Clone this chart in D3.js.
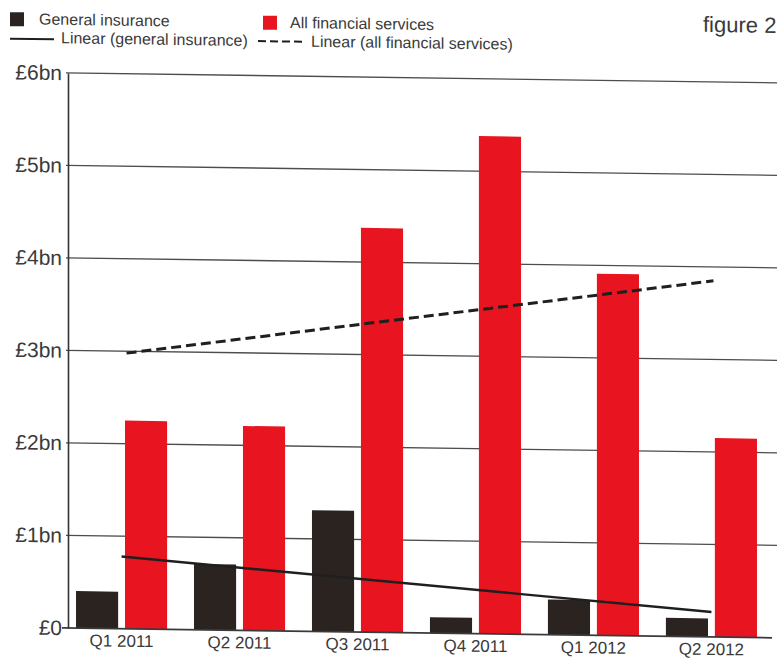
<!DOCTYPE html>
<html>
<head>
<meta charset="utf-8">
<script src="https://cdn.jsdelivr.net/npm/d3@7"></script>
<style>
  html, body { margin: 0; padding: 0; background: #ffffff; }
  svg { display: block; }
  text { font-family: "Liberation Sans", Arial, Helvetica, sans-serif; fill: #3a3a3a; }
</style>
</head>
<body>
<svg id="chart" width="777" height="662"></svg>
<script>
// Quarterly values, £bn
const quarters = ["Q1 2011", "Q2 2011", "Q3 2011", "Q4 2011", "Q1 2012", "Q2 2012"];
const generalInsurance = [0.40, 0.71, 1.31, 0.17, 0.38, 0.20];
const allFinancialServices = [2.25, 2.21, 4.37, 5.38, 3.91, 2.15];

// Linear trend lines: value at first and last quarter, £bn
const trendGeneralInsurance = [0.78, 0.27];
const trendAllFinancial = [2.98, 3.85];

// Value axis
const yTickValues = [0, 1, 2, 3, 4, 5, 6];
const yTickLabels = ["£0", "£1bn", "£2bn", "£3bn", "£4bn", "£5bn", "£6bn"];

const seriesKeys = ["general", "all"];
const seriesNames = ["General insurance", "All financial services"];
const colors = { general: "#2a2320", all: "#e8141f" };

const W = 777, H = 662;
const plot = { left: 68, right: 765, top: 72, bottom: 627 };

const svg = d3.select("#chart");
svg.append("rect").attr("width", W).attr("height", H).attr("fill", "#ffffff");

// the printed page sits at a slight slant
const root = svg.append("g").attr("transform", "skewY(0.8)");

const x0 = d3.scaleBand()
  .domain(quarters)
  .range([plot.left, plot.right])
  .paddingInner(0.228)
  .paddingOuter(0.068);

const x1 = d3.scaleBand()
  .domain(seriesKeys)
  .range([0, x0.bandwidth()])
  .paddingInner(0.14);

const y = d3.scaleLinear()
  .domain([0, 6])
  .range([plot.bottom, plot.top]);

// gridlines
root.append("g")
  .selectAll("line")
  .data(yTickValues.filter(d => d > 0))
  .join("line")
  .attr("x1", plot.left - 2)
  .attr("x2", W)
  .attr("y1", d => y(d))
  .attr("y2", d => y(d))
  .attr("stroke", "#4d4d4d")
  .attr("stroke-width", 1.4);

// bars
const rows = quarters.map((q, i) => ({
  q,
  values: [
    { key: "general", v: generalInsurance[i] },
    { key: "all", v: allFinancialServices[i] }
  ]
}));

root.append("g")
  .selectAll("g")
  .data(rows)
  .join("g")
  .attr("transform", d => `translate(${x0(d.q)},0)`)
  .selectAll("rect")
  .data(d => d.values)
  .join("rect")
  .attr("x", d => x1(d.key))
  .attr("width", x1.bandwidth())
  .attr("y", d => y(d.v))
  .attr("height", d => y(0) - y(d.v))
  .attr("fill", d => colors[d.key]);

// baseline
root.append("line")
  .attr("x1", plot.left - 6)
  .attr("x2", 772)
  .attr("y1", y(0))
  .attr("y2", y(0))
  .attr("stroke", "#3a3a3a")
  .attr("stroke-width", 1.8);

// y axis
const yAxis = root.append("g")
  .attr("transform", `translate(${plot.left},0)`)
  .call(d3.axisLeft(y)
    .tickValues(yTickValues)
    .tickFormat((d, i) => yTickLabels[i])
    .tickSize(0)
    .tickPadding(6));
yAxis.select(".domain").attr("stroke", "#333").attr("stroke-width", 1.6);
yAxis.selectAll("text")
  .style("font-size", "21px")
  .attr("fill", "#3a3a3a")
  .attr("font-family", "Liberation Sans, Arial, sans-serif");

// x axis labels
const xAxis = root.append("g")
  .attr("transform", `translate(0,${y(0)})`)
  .call(d3.axisBottom(x0).tickSize(0).tickPadding(6));
xAxis.select(".domain").remove();
xAxis.selectAll("text")
  .style("font-size", "17px")
  .attr("fill", "#3a3a3a")
  .attr("font-family", "Liberation Sans, Arial, sans-serif");

// trend lines
const xFirst = x0(quarters[0]) + x0.bandwidth() / 2;
const xLast = x0(quarters[quarters.length - 1]) + x0.bandwidth() / 2;
const trendLine = d3.line().x(d => d[0]).y(d => y(d[1]));

root.append("path")
  .attr("d", trendLine([[xFirst, trendGeneralInsurance[0]], [xLast, trendGeneralInsurance[1]]]))
  .attr("fill", "none")
  .attr("stroke", "#1f1f1f")
  .attr("stroke-width", 2.4);

root.append("path")
  .attr("d", trendLine([[xFirst + 5, trendAllFinancial[0]], [xLast + 2, trendAllFinancial[1]]]))
  .attr("fill", "none")
  .attr("stroke", "#1f1f1f")
  .attr("stroke-width", 3)
  .attr("stroke-dasharray", "10,5");

// legend
const legend = root.append("g");
legend.append("rect").attr("x", 10).attr("y", 12).attr("width", 14).attr("height", 14).attr("fill", colors.general);
legend.append("text").attr("x", 39).attr("y", 24).style("font-size", "16px").text(seriesNames[0]);
legend.append("rect").attr("x", 263).attr("y", 12).attr("width", 14).attr("height", 14).attr("fill", colors.all);
legend.append("text").attr("x", 290).attr("y", 24).style("font-size", "16px").text(seriesNames[1]);

legend.append("line").attr("x1", 10).attr("x2", 54).attr("y1", 38.5).attr("y2", 38.5)
  .attr("stroke", "#1f1f1f").attr("stroke-width", 2);
legend.append("text").attr("x", 61).attr("y", 42.5).style("font-size", "16px").text("Linear (general insurance)");
legend.append("line").attr("x1", 258).attr("x2", 306).attr("y1", 37.5).attr("y2", 37.5)
  .attr("stroke", "#1f1f1f").attr("stroke-width", 2).attr("stroke-dasharray", "8,4");
legend.append("text").attr("x", 311).attr("y", 42.5).style("font-size", "16px").text("Linear (all financial services)");

legend.append("text").attr("x", 703).attr("y", 22).style("font-size", "22px").text("figure 2");
</script>
</body>
</html>
